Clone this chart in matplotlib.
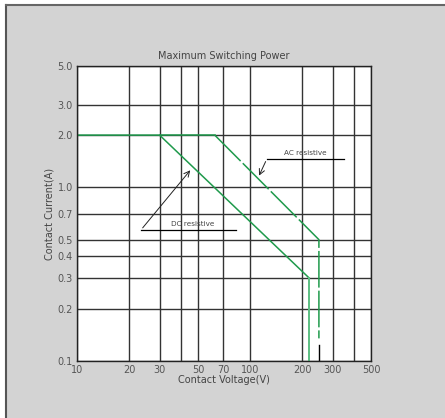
import matplotlib
matplotlib.use("Agg")
import matplotlib.pyplot as plt
from matplotlib.patches import Rectangle
from matplotlib.lines import Line2D

# ratings
dc_volts = [10, 30, 220]
dc_amps = [2.0, 2.0, 0.3]
dc_cut_volts = [220, 220]
dc_cut_amps = [0.3, 0.1]

ac_flat_volts = [30, 62.5]
ac_flat_amps = [2.0, 2.0]
ac_volts = [62.5, 250, 250]
ac_amps = [2.0, 0.5, 0.135]
stub_volts = [250, 250]
stub_amps = [0.1, 0.124]

x_ticks = [10, 20, 30, 40, 50, 70, 100, 200, 300, 400, 500]
x_labels = ["10", "20", "30", "", "50", "70", "100", "200", "300", "", "500"]
y_ticks = [0.1, 0.2, 0.3, 0.4, 0.5, 0.7, 1.0, 2.0, 3.0, 5.0]
y_labels = ["0.1", "0.2", "0.3", "0.4", "0.5", "0.7", "1.0", "2.0", "3.0", "5.0"]

W, H = 445, 418
fig = plt.figure(figsize=(W / 100, H / 100), dpi=100)
fig.patch.set_facecolor("white")

# gray panel with dark left/top edge
fig.add_artist(Rectangle((6 / W, 0), 1, 1 - 5 / H, transform=fig.transFigure,
                         facecolor="#d3d3d3", edgecolor="none", zorder=-10))
fig.add_artist(Line2D([6 / W, 6 / W], [0, 1 - 5 / H], transform=fig.transFigure,
                      color="#555555", lw=1.5))
fig.add_artist(Line2D([6 / W, 1], [1 - 5 / H, 1 - 5 / H], transform=fig.transFigure,
                      color="#666666", lw=1.5))

ax = fig.add_axes([77 / W, 57 / H, 294 / W, 295 / H])
ax.set_facecolor("white")
ax.set_xscale("log")
ax.set_yscale("log")
ax.set_xlim(10, 500)
ax.set_ylim(0.1, 5.0)

ax.set_xticks(x_ticks)
ax.set_xticklabels(x_labels)
ax.set_yticks(y_ticks)
ax.set_yticklabels(y_labels)
ax.minorticks_off()
ax.tick_params(length=0, labelsize=7, labelcolor="#555555", pad=3)
ax.grid(True, color="#333333", lw=1.0)
ax.set_axisbelow(True)
for s in ax.spines.values():
    s.set_color("#222222")
    s.set_linewidth(1.0)

green = "#1f9a4c"
ax.plot(dc_volts, dc_amps, color=green, lw=1.1)
ax.plot(dc_cut_volts, dc_cut_amps, color="#5cbf82", lw=1.4)
ax.plot(ac_flat_volts, ac_flat_amps, color=green, lw=1.1)
ax.plot(ac_volts, ac_amps, color=green, lw=1.1, dashes=[24, 2])
ax.plot(stub_volts, stub_amps, color="black", lw=1.0)

# callouts
ax.plot([125, 349], [1.456, 1.456], color="black", lw=0.9)
ax.text(208, 1.58, "AC resistive", fontsize=5.2, color="#444444", ha="center", va="center")
ax.annotate("", xy=(111, 1.13), xytext=(125, 1.456),
            arrowprops=dict(arrowstyle="->", color="#222222", lw=0.7, mutation_scale=10))

ax.plot([23.4, 83], [0.568, 0.568], color="black", lw=0.9)
ax.text(46.8, 0.615, "DC resistive", fontsize=5.2, color="#444444", ha="center", va="center")
ax.annotate("", xy=(46.2, 1.29), xytext=(23.4, 0.568),
            arrowprops=dict(arrowstyle="->", color="#222222", lw=0.7, mutation_scale=10))

ax.set_title("Maximum Switching Power", fontsize=7, color="#444444", pad=5)
ax.set_xlabel("Contact Voltage(V)", fontsize=7, color="#444444", labelpad=0)
ax.set_ylabel("Contact Current(A)", fontsize=7, color="#444444", labelpad=2)

fig.savefig("out.png", dpi=100)
